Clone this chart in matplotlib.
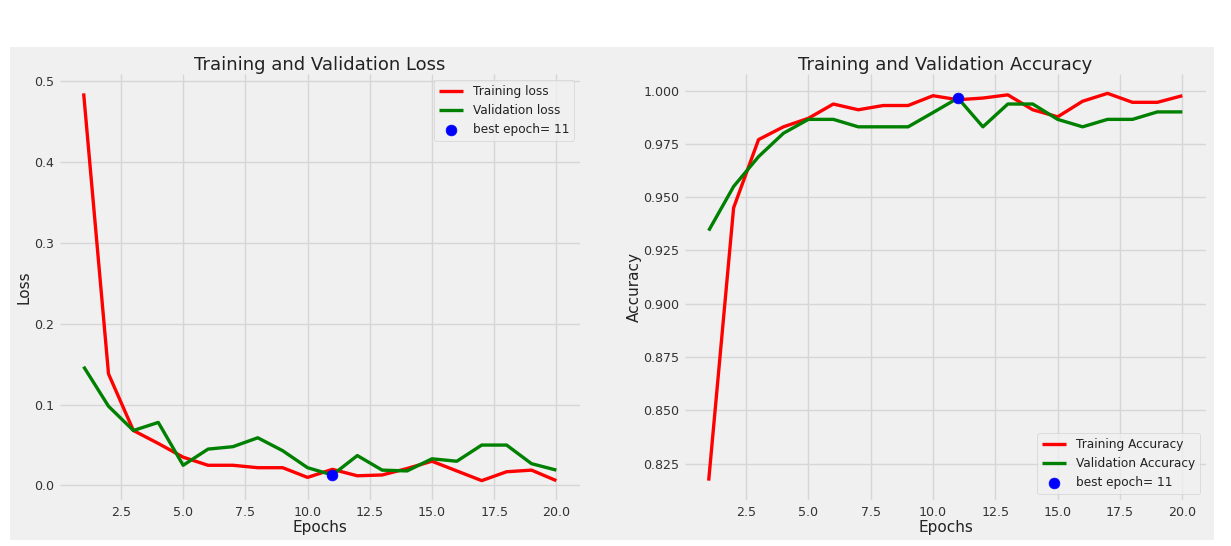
import numpy as np
import matplotlib
matplotlib.use("Agg")
import matplotlib.pyplot as plt
from matplotlib.patches import Rectangle

# Training history
epochs = list(range(1, 21))
train_loss = [0.485, 0.138, 0.068, 0.052, 0.035, 0.025, 0.025, 0.022, 0.022, 0.010,
              0.020, 0.012, 0.013, 0.021, 0.030, 0.018, 0.006, 0.017, 0.019, 0.006]
val_loss = [0.147, 0.098, 0.068, 0.078, 0.025, 0.045, 0.048, 0.059, 0.043, 0.022,
            0.013, 0.037, 0.019, 0.018, 0.033, 0.030, 0.050, 0.050, 0.027, 0.019]
train_acc = [0.817, 0.945, 0.977, 0.983, 0.987, 0.9937, 0.991, 0.993, 0.993, 0.9976,
             0.9957, 0.9965, 0.998, 0.991, 0.9877, 0.995, 0.9987, 0.9945, 0.9945, 0.9976]
val_acc = [0.9343, 0.955, 0.969, 0.980, 0.9865, 0.9865, 0.983, 0.983, 0.983, 0.9897,
           0.9965, 0.983, 0.9937, 0.9937, 0.9865, 0.983, 0.9865, 0.9865, 0.990, 0.990]
best_epoch = 11

plt.style.use('fivethirtyeight')
plt.rcParams['text.color'] = '#222222'
plt.rcParams['xtick.color'] = '#333333'
plt.rcParams['ytick.color'] = '#333333'
plt.rcParams['axes.labelcolor'] = '#222222'

W, H = 1231, 546
fig = plt.figure(figsize=(W / 100, H / 100), dpi=100, facecolor='white')

# gray panel behind both plots (screenshot has a white margin)
fig.patches.append(Rectangle((10 / W, 1 - 540 / H), 1204 / W, 493 / H,
                             transform=fig.transFigure, facecolor='#f0f0f0',
                             edgecolor='none', zorder=-5))

ax1 = fig.add_axes([60 / W, 1 - 500 / H, 520 / W, 426 / H])
ax2 = fig.add_axes([685 / W, 1 - 500 / H, 521 / W, 426 / H])

lw = 2.4
ms = 60

# Loss
ax1.plot(epochs, train_loss, 'r', linewidth=lw, label='Training loss')
ax1.plot(epochs, val_loss, 'g', linewidth=lw, label='Validation loss')
ax1.scatter(best_epoch, val_loss[best_epoch - 1], s=ms, c='blue',
            label=f'best epoch= {best_epoch}', zorder=3)
ax1.set_title('Training and Validation Loss', fontsize=13, pad=3)
ax1.set_xlabel('Epochs', fontsize=11, labelpad=1)
ax1.set_ylabel('Loss', fontsize=11, labelpad=2)
ax1.legend(loc='upper right', fontsize=8.7)

# Accuracy
ax2.plot(epochs, train_acc, 'r', linewidth=lw, label='Training Accuracy')
ax2.plot(epochs, val_acc, 'g', linewidth=lw, label='Validation Accuracy')
ax2.scatter(best_epoch, val_acc[best_epoch - 1], s=ms, c='blue',
            label=f'best epoch= {best_epoch}', zorder=3)
ax2.set_title('Training and Validation Accuracy', fontsize=13, pad=3)
ax2.set_xlabel('Epochs', fontsize=11, labelpad=1)
ax2.set_ylabel('Accuracy', fontsize=11, labelpad=1)
ax2.legend(loc='lower right', fontsize=8.7)

for ax in (ax1, ax2):
    ax.set_facecolor('#f0f0f0')
    ax.tick_params(labelsize=9.1, length=0, pad=4)
    ax.grid(True, color='#d6d6d6', linewidth=1)
    for s in ax.spines.values():
        s.set_visible(False)

fig.savefig('out.png', dpi=100, facecolor='white')
